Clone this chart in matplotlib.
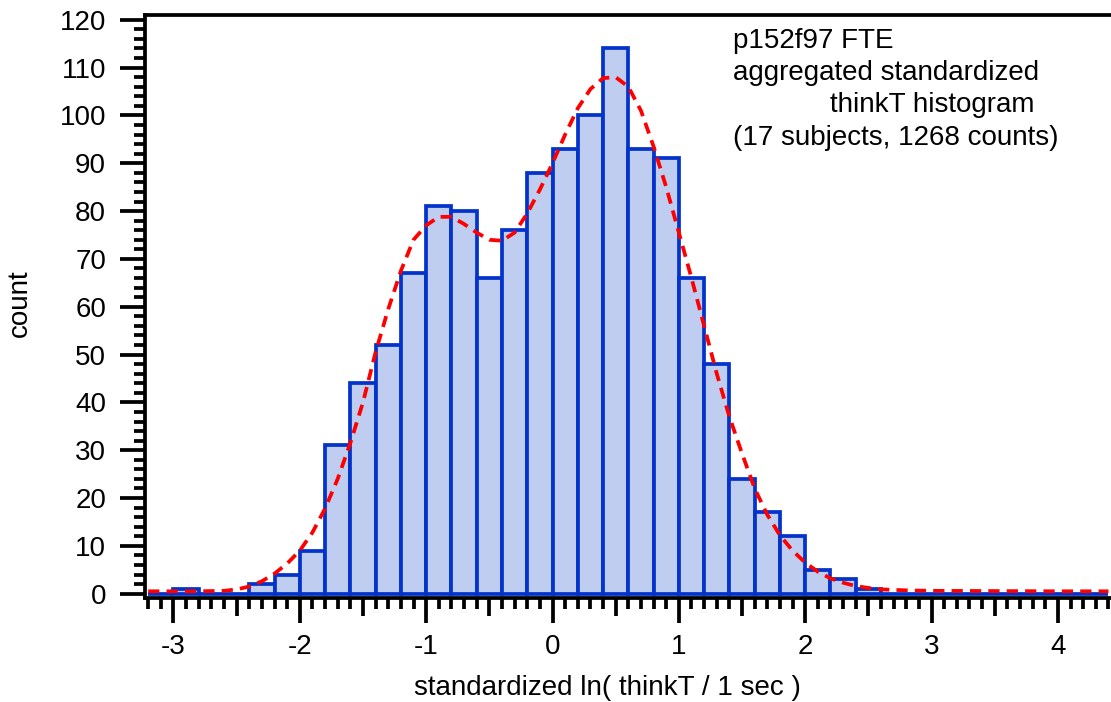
import matplotlib.pyplot as plt
from matplotlib.ticker import MultipleLocator
import numpy as np

plt.rcParams['font.family'] = ['Liberation Sans', 'DejaVu Sans']

# histogram of standardized ln(thinkT), bins of 0.2 starting at -3.2
bin_start = -3.2
bin_width = 0.2
counts = [0, 1, 0, 0, 2, 4, 9, 31, 44, 52,
          67, 81, 80, 66, 76, 88, 93, 100, 114, 93,
          91, 66, 48, 24, 17, 12, 5, 3, 1, 0,
          0, 0, 0, 0, 0, 0, 0, 0]

# fitted density curve (scaled to counts)
fit_x = [-3.2, -3.0, -2.8, -2.6, -2.5, -2.4, -2.3, -2.2, -2.1, -2.0,
         -1.9, -1.8, -1.7, -1.6, -1.5, -1.4, -1.3, -1.2, -1.1, -1.0,
         -0.9, -0.8, -0.7, -0.6, -0.5, -0.4, -0.3, -0.2, -0.1, 0.0,
         0.1, 0.2, 0.3, 0.4, 0.5, 0.6, 0.7, 0.8, 0.9, 1.0,
         1.1, 1.2, 1.3, 1.4, 1.5, 1.6, 1.7, 1.8, 1.9, 2.0,
         2.1, 2.2, 2.3, 2.4, 2.5, 2.6, 2.8, 3.0, 3.5, 4.0, 4.4]
fit_y = [0.5, 0.5, 0.5, 0.6, 0.9, 1.5, 2.6, 4.2, 6.3, 9.0,
         12.8, 17.8, 24.0, 31.5, 40.0, 50.5, 59.5, 67.5, 74.0, 77.0,
         78.8, 78.8, 77.3, 75.5, 74.0, 73.8, 75.5, 79.5, 84.5, 90.0,
         96.0, 101.5, 105.5, 107.8, 108.0, 106.0, 101.0, 93.5, 85.0, 75.5,
         66.0, 56.0, 46.0, 37.0, 29.3, 22.0, 16.5, 12.2, 9.0, 6.5,
         4.6, 3.2, 2.3, 1.6, 1.2, 0.9, 0.7, 0.6, 0.55, 0.5, 0.5]

info_lines = ['p152f97 FTE', 'aggregated standardized',
              'thinkT histogram', '(17 subjects, 1268 counts)']

W, H = 1111, 702
fs = 20
lw = 2.7
fig = plt.figure(figsize=(W / 100, H / 100), dpi=100)
ax = fig.add_axes([145 / W, 1 - 598 / H, (W - 145) / W, (598 - 15) / H])

lefts = bin_start + bin_width * np.arange(len(counts))
ax.bar(lefts, counts, width=bin_width, align='edge',
       color='#bfcdf0', edgecolor='#0433cc', linewidth=lw, zorder=2)
ax.plot(fit_x, fit_y, color='#ff0000', linewidth=lw,
        dashes=(3.0, 1.9), zorder=3)

ax.set_xlim(-3.225, 4.42)
ax.set_ylim(-0.9, 121)

# axes frame: left, bottom and top only
for side in ['left', 'bottom', 'top']:
    ax.spines[side].set_linewidth(lw)
    ax.spines[side].set_color('black')
    ax.spines[side].set_zorder(4)
ax.spines['right'].set_visible(False)

# x ticks: integers labelled, half units medium, tenths minor
xt = np.arange(-3, 4.01, 0.5)
ax.set_xticks(xt)
ax.set_xticklabels([f'{v:g}' if v == int(v) else '' for v in xt])
ax.xaxis.set_minor_locator(MultipleLocator(0.1))
ax.set_yticks(np.arange(0, 121, 10))
ax.yaxis.set_minor_locator(MultipleLocator(2))

ax.tick_params(which='major', direction='out', length=18, width=lw,
               labelsize=fs, top=False, right=False)
ax.tick_params(which='minor', direction='out', length=8, width=lw,
               top=False, right=False)
ax.tick_params(axis='x', which='major', pad=8)
ax.tick_params(axis='y', which='major', pad=10)

for tick in ax.xaxis.get_major_ticks():
    if tick.get_loc() != int(tick.get_loc()):
        tick.tick1line.set_markersize(13)

# annotation block
fig.text(733 / W, 1 - 48 / H, info_lines[0], fontsize=fs, va='baseline')
fig.text(733 / W, 1 - 80 / H, info_lines[1], fontsize=fs, va='baseline')
fig.text(1034 / W, 1 - 112 / H, info_lines[2], fontsize=fs, va='baseline', ha='right')
fig.text(733 / W, 1 - 145 / H, info_lines[3], fontsize=fs, va='baseline')

fig.text(607 / W, 1 - 688 / H, 'standardized ln( thinkT / 1 sec )',
         fontsize=fs, ha='center', va='center')
fig.text(20 / W, 1 - 303 / H, 'count', fontsize=fs, rotation=90,
         ha='center', va='center')

fig.savefig('out.png', dpi=100)
